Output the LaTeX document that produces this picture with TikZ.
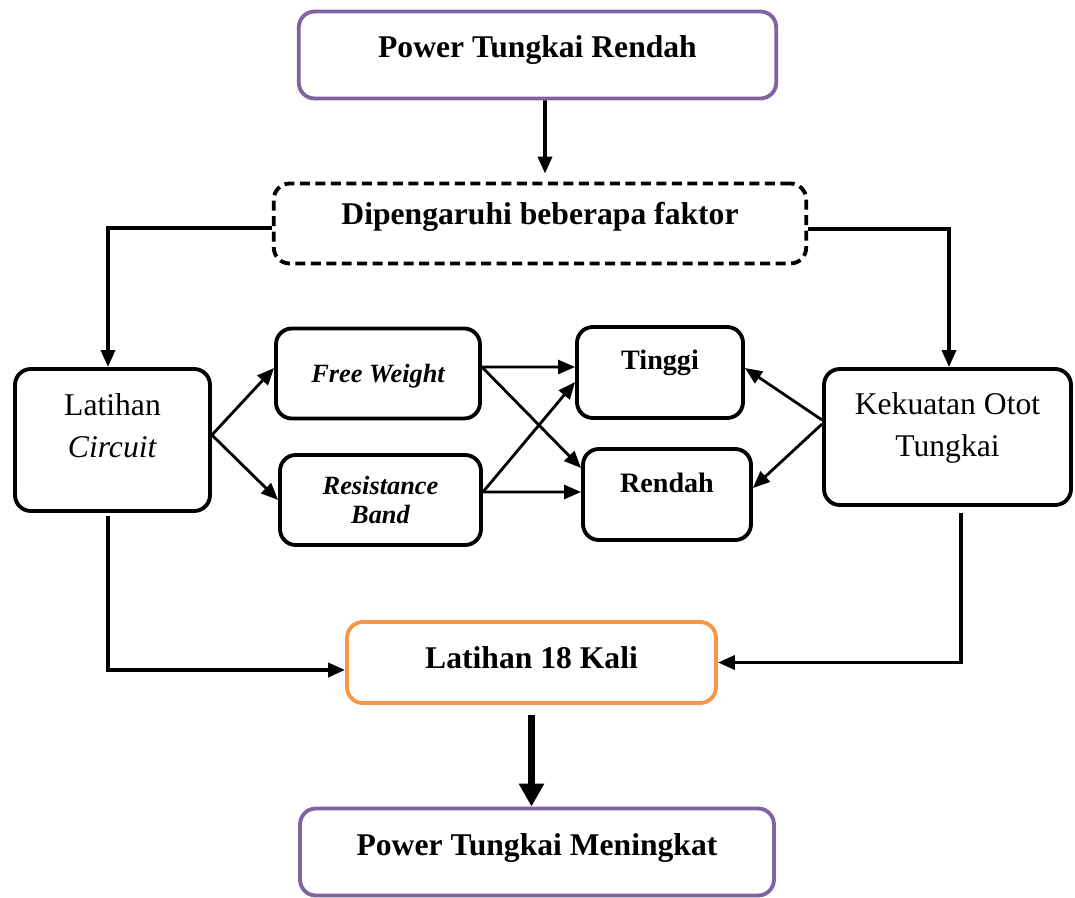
\documentclass[tikz,border=0pt]{standalone}
\usepackage{fontspec}
\setmainfont{Liberation Serif}
\usepackage{tikz}
\usetikzlibrary{arrows.meta,positioning}
\definecolor{boxpurple}{RGB}{128,100,162}
\definecolor{boxorange}{RGB}{247,150,70}

\begin{document}
\begin{tikzpicture}[
    x=0.02cm, y=-0.02cm,
    box/.style={
        rectangle,
        draw=black,
        line width=2.2pt,
        rounded corners=9pt,
        align=center,
        inner sep=0pt,
        font=\fontsize{18}{24}\selectfont
    },
    purplebox/.style={
        box,
        draw=boxpurple,
        font=\bfseries\fontsize{18}{24}\selectfont
    },
    dashbox/.style={
        box,
        dash pattern=on 0.2cm off 0.11cm,
        font=\bfseries\fontsize{18}{24}\selectfont
    },
    orangebox/.style={
        box,
        draw=boxorange,
        font=\bfseries\fontsize{18}{24}\selectfont
    },
    smallbox/.style={
        box,
        font=\bfseries\itshape\fontsize{15}{17}\selectfont
    },
    levelbox/.style={
        box,
        font=\bfseries\fontsize{16}{20}\selectfont
    },
    arrow/.style={
        -{Triangle[length=0.34cm,width=0.28cm]},
        line width=1.6pt,
        draw=black
    },
    longarrow/.style={
        arrow,
        line width=2pt
    },
    bigarrow/.style={
        -{Triangle[length=0.46cm,width=0.48cm]},
        line width=0.14cm,
        draw=black
    }
]
    \useasboundingbox (0,0) rectangle (1075,898);

    % Nodes
    \node (power) [purplebox, minimum width=9.55cm, minimum height=1.74cm,
        text height=0.5cm, text depth=0.38cm] at (537.5,55) {Power Tungkai Rendah};
    \node (faktor) [dashbox, minimum width=10.65cm, minimum height=1.6cm,
        text height=0.5cm, text depth=0.44cm] at (540,223.5) {Dipengaruhi beberapa faktor};

    \node (circuit) [box, minimum width=3.9cm, minimum height=2.84cm,
        text height=1.3cm, text depth=0.58cm] at (112.5,440) {Latihan\\\textit{Circuit}};
    \node (free) [smallbox, minimum width=4.08cm, minimum height=1.8cm,
        text height=0.5cm, text depth=0.12cm] at (378,373.5) {Free Weight};
    \node (band) [smallbox, minimum width=4.02cm, minimum height=1.8cm,
        text height=1.1cm, text depth=0.14cm] at (380.5,500) {Resistance\\Band};

    \node (tinggi) [levelbox, minimum width=3.32cm, minimum height=1.82cm,
        text height=0.5cm, text depth=0.6cm] at (660,372.5) {Tinggi};
    \node (rendah) [levelbox, minimum width=3.36cm, minimum height=1.82cm,
        text height=0.5cm, text depth=0.6cm] at (667,494.5) {Rendah};

    \node (kekuatan) [box, minimum width=4.94cm, minimum height=2.72cm,
        text height=1.3cm, text depth=0.5cm] at (947.5,437) {Kekuatan Otot\\Tungkai};

    \node (kali) [orangebox, minimum width=7.38cm, minimum height=1.62cm,
        text height=0.5cm, text depth=0.28cm] at (531.5,662.5) {Latihan 18 Kali};
    \node (meningkat) [purplebox, minimum width=9.48cm, minimum height=1.74cm,
        text height=0.5cm, text depth=0.38cm] at (537,852) {Power Tungkai Meningkat};

    % Arrows
    \draw [longarrow, shorten >=0.16cm] ([xshift=0.15cm]power.south) -- ([xshift=0.1cm]faktor.north);
    \draw [longarrow] ([yshift=-0.09cm]faktor.west) -| ([xshift=-0.09cm]circuit.north);
    \draw [longarrow] ([yshift=-0.11cm]faktor.east) -| ([xshift=0.03cm]kekuatan.north);

    \draw [arrow] ([yshift=0.1cm]circuit.east) -- ([yshift=0.11cm]free.west);
    \draw [arrow] ([yshift=0.1cm]circuit.east) -- (band.west);

    \draw [arrow] ([yshift=0.13cm]free.east) -- ([yshift=0.11cm]tinggi.west);
    \draw [arrow] ([yshift=0.13cm]free.east) -- ([yshift=0.53cm]rendah.west);
    \draw [arrow] ([yshift=0.16cm]band.east) -- ([yshift=-0.19cm]tinggi.west);
    \draw [arrow] ([yshift=0.16cm]band.east) -- ([yshift=0.05cm]rendah.west);

    \draw [arrow] ([yshift=0.34cm]kekuatan.west) -- ([yshift=0.09cm]tinggi.east);
    \draw [arrow] ([yshift=0.26cm]kekuatan.west) -- ([yshift=0.13cm]rendah.east);

    \draw [longarrow, shorten <=0.06cm] ([xshift=-0.09cm]circuit.south) |- ([yshift=-0.15cm]kali.west);
    \draw [longarrow, shorten <=0.12cm] ([xshift=0.27cm]kekuatan.south) |- (kali.east);

    \draw [bigarrow, shorten <=0.2cm] (kali.south) -- (kali.south |- meningkat.north);

\end{tikzpicture}
\end{document}
